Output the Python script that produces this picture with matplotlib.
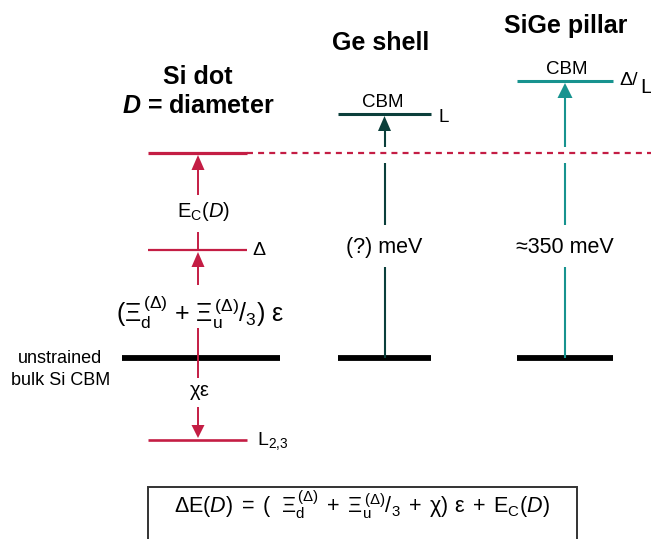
import matplotlib
matplotlib.use('Agg')
import matplotlib.pyplot as plt

plt.rcParams['font.family'] = ['Liberation Sans', 'DejaVu Sans']
plt.rcParams['mathtext.fontset'] = 'custom'
plt.rcParams['mathtext.rm'] = 'Liberation Sans'
plt.rcParams['mathtext.it'] = 'Liberation Sans:italic'
plt.rcParams['mathtext.bf'] = 'Liberation Sans:bold'
plt.rcParams['mathtext.bfit'] = 'Liberation Sans:bold:italic'
plt.rcParams['mathtext.sf'] = 'Liberation Sans'
plt.rcParams['lines.scale_dashes'] = False

# Schematic level energies, relative to the unstrained bulk Si CBM (= 0)
bulk_cbm = 0
si_dot_ec = 205        # Δ level raised by quantum confinement E_c(D)
si_delta = 108         # strained Δ valley
si_l23 = -82           # strained L_{2,3} valleys
ge_shell_cbm = 244     # Ge shell CBM (L)
sige_cbm = 277         # SiGe pillar CBM (Δ/L)

column_titles = ['Si dot', 'Ge shell', 'SiGe pillar']
gap_labels = ['(?) meV', '≈350 meV']

RED = '#c41d44'
DARK = '#0b3f3b'
TEAL = '#17938f'
BLACK = '#000000'

fig = plt.figure(figsize=(6.51, 5.39), dpi=100)
ax = fig.add_axes([0, 0, 1, 1])
ax.set_xlim(0, 651)
ax.set_ylim(-181, 358)
ax.axis('off')


def level(xc, half, e, color, lw):
    ax.plot([xc - half, xc + half], [e, e], color=color, lw=lw,
            solid_capstyle='butt')


def arrow(x, e_from, e_to, color, lw, gaps=(), head_w=13, head_h=15):
    """Vertical arrow from e_from to e_to, with blank stretches in gaps."""
    d = 1 if e_to > e_from else -1
    tip = e_to - d * 2
    base = tip - d * head_h
    lo, hi = sorted((e_from, base))
    start = lo
    for g0, g1 in sorted(gaps):
        g0, g1 = sorted((g0, g1))
        if g1 <= start or g0 >= hi:
            continue
        ax.plot([x, x], [start, g0], color=color, lw=lw, solid_capstyle='butt')
        start = g1
    ax.plot([x, x], [start, hi], color=color, lw=lw, solid_capstyle='butt')
    ax.fill([x - head_w / 2, x + head_w / 2, x], [base, base, tip],
            color=color, lw=0)


# ---- Si dot column ----
xs = 198
level(197.5, 49.5, si_dot_ec, RED, 2.3)
ax.plot([247, 651], [si_dot_ec, si_dot_ec], color=RED, lw=1.6,
        dashes=(4.3, 3.7))
level(197.5, 49.5, si_delta, RED, 1.6)
level(197.5, 49.5, si_l23, RED, 1.9)
level(201, 79, bulk_cbm, BLACK, 4.2)

arrow(xs, si_delta, si_dot_ec, RED, 1.4, gaps=[(126, 163)])
arrow(xs, bulk_cbm, si_delta, RED, 1.4, gaps=[(30, 73)])
arrow(xs, bulk_cbm, si_l23, RED, 1.4, gaps=[(-49, -20)], head_h=13)

ax.text(xs, 274, column_titles[0], ha='center', va='baseline',
        fontsize=18, fontweight='bold')
ax.text(xs, 245, r'$\mathbfit{D}$ = diameter', ha='center', va='baseline',
        fontsize=18, fontweight='bold')

ax.text(203, 141, r'E$_\mathrm{C}$($\mathit{D}$)', ha='center', va='baseline',
        fontsize=14.5)
ax.text(200, 36,
        r'($\Xi_\mathrm{d}^{\,(\Delta)}$ + $\Xi_\mathrm{u}^{\,(\Delta)}$$/_3$) $\mathrm{\varepsilon}$',
        ha='center', va='baseline', fontsize=18)
ax.text(200, -35, r'$\mathrm{\chi\varepsilon}$', ha='center', va='center',
        fontsize=14.5)
ax.text(252, 103, 'Δ', ha='left', va='baseline', fontsize=14)
ax.text(257, -87, r'L$_\mathrm{2{,}3}$', ha='left', va='baseline', fontsize=14)
ax.text(60, -5, 'unstrained', ha='center', va='baseline', fontsize=13)
ax.text(61, -27, 'bulk Si CBM', ha='center', va='baseline', fontsize=13)

# ---- Ge shell column ----
xg = 384.5
level(xg, 46.5, ge_shell_cbm, DARK, 2.2)
level(xg, 46.5, bulk_cbm, BLACK, 4.2)
arrow(xg, bulk_cbm, ge_shell_cbm, DARK, 1.5, gaps=[(195, 211), (91, 133)])
ax.text(381, 308, column_titles[1], ha='center', va='baseline',
        fontsize=18, fontweight='bold')
ax.text(383, 251, 'CBM', ha='center', va='baseline', fontsize=13.5)
ax.text(438, 236, 'L', ha='left', va='baseline', fontsize=13.5)
ax.text(384, 105, gap_labels[0], ha='center', va='baseline', fontsize=15.5)

# ---- SiGe pillar column ----
xp = 565
level(xp, 48, sige_cbm, TEAL, 2.2)
level(xp, 48, bulk_cbm, BLACK, 4.2)
arrow(xp, bulk_cbm, sige_cbm, TEAL, 1.5, gaps=[(195, 211), (91, 133)],
      head_w=15)
ax.text(566, 325, column_titles[2], ha='center', va='baseline',
        fontsize=18, fontweight='bold')
ax.text(567, 284, 'CBM', ha='center', va='baseline', fontsize=13.5)
ax.text(565, 105, gap_labels[1], ha='center', va='baseline', fontsize=15.5)
ax.text(619, 273, 'Δ/', ha='left', va='baseline', fontsize=14)
ax.text(640, 265, 'L', ha='left', va='baseline', fontsize=15)

# ---- formula box ----
ax.plot([148, 148, 577, 577], [-190, -129, -129, -190], color='#333333',
        lw=1.4, solid_joinstyle='miter', clip_on=False)
ax.text(362, -155,
        r'$\Delta\mathrm{E}(\mathit{D})\;=\;(\ \ \Xi_\mathrm{d}^{\,(\Delta)}\;+\;'
        r'\Xi_\mathrm{u}^{\,(\Delta)}/_3\;+\;\mathrm{\chi})\ \mathrm{\varepsilon}'
        r'\;+\;\mathrm{E_C}(\mathit{D})$',
        ha='center', va='baseline', fontsize=15.5)

fig.savefig('out.png', dpi=100)
